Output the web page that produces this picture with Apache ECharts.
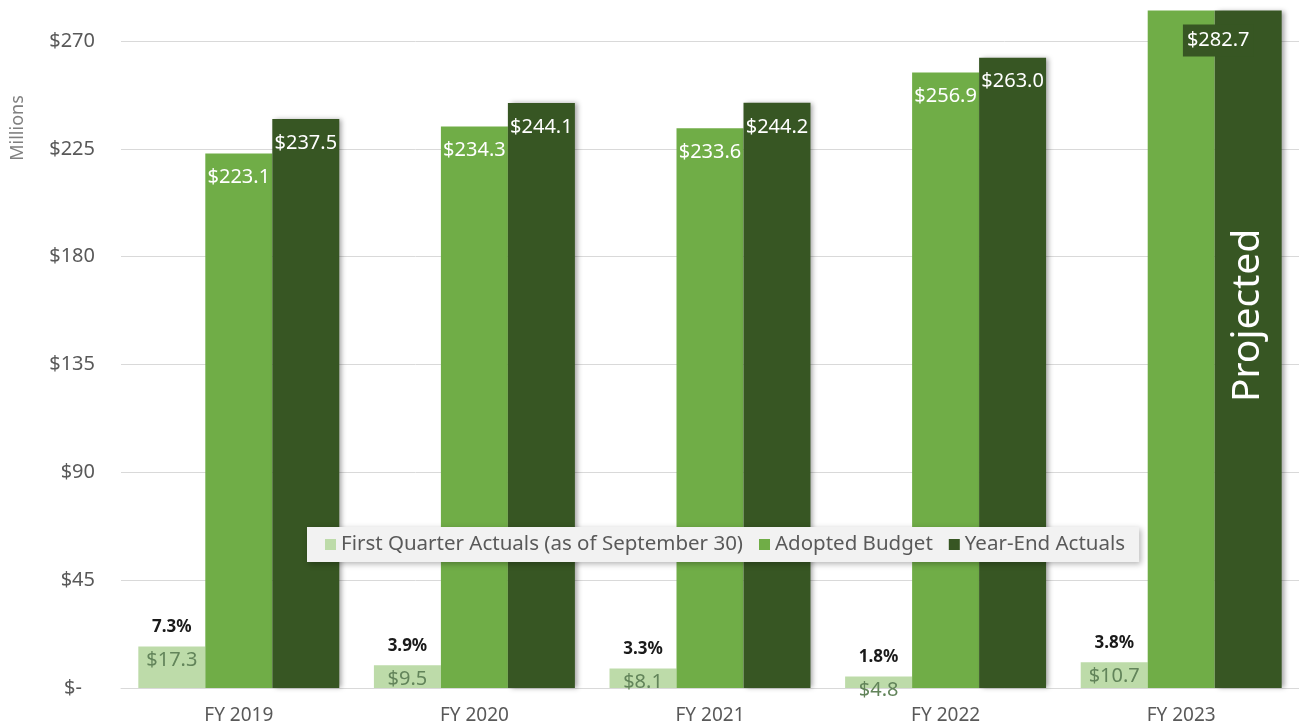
<!DOCTYPE html>
<html>
<head>
<meta charset="utf-8">
<title>Revenue by Fiscal Year</title>
<script src="https://cdn.jsdelivr.net/npm/echarts@6/dist/echarts.min.js"></script>
<style>
  html, body { margin: 0; padding: 0; background: #ffffff; }
  #chart { width: 1299px; height: 727px; }
</style>
</head>
<body>
<div id="chart"></div>
<script>
// Fiscal years on the category axis
const categories = ['FY 2019', 'FY 2020', 'FY 2021', 'FY 2022', 'FY 2023'];

// Values in millions of dollars
const firstQuarter = [17.3, 9.5, 8.1, 4.8, 10.7];
const adoptedBudget = [223.1, 234.3, 233.6, 256.9, 282.7];
const yearEndActuals = [237.5, 244.1, 244.2, 263.0, 282.7];

// First-quarter share of year-end actuals
const firstQuarterShare = ['7.3%', '3.9%', '3.3%', '1.8%', '3.8%'];

// Value axis ticks
const yMin = 0;
const yMax = 270;
const yStep = 45;

const FONT = '"Noto Sans", "Open Sans", sans-serif';
const C_Q1 = '#bddba9';
const C_BUDGET = '#70ad47';
const C_YEAREND = '#375623';

const money = v => '$' + v.toFixed(1);
const last = categories.length - 1;

// Adopted budget: the projected year gets its label set on a dark tag
const budgetData = adoptedBudget.map((v, i) => i === last
  ? { value: v, label: { backgroundColor: C_YEAREND, padding: [6, 4], offset: [37, 0] } }
  : v);

// Year-end actuals: the projected year carries a vertical caption
const yearEndData = yearEndActuals.map((v, i) => i === last
  ? { value: v, label: { formatter: 'Projected', rotate: 90, fontSize: 39,
      position: ['50%', '45%'], align: 'center', verticalAlign: 'middle' } }
  : v);

const chart = echarts.init(document.getElementById('chart'), null, { renderer: 'canvas' });

chart.setOption({
  animation: false,
  textStyle: { fontFamily: FONT },
  grid: { left: 121, right: 0, top: 41, bottom: 39, containLabel: false },
  legend: {
    left: 307, top: 527,
    data: ['First Quarter Actuals (as of September 30)', 'Adopted Budget', 'Year-End Actuals'],
    icon: 'rect', itemWidth: 11, itemHeight: 11, itemGap: 16,
    padding: [7, 14, 7, 18],
    backgroundColor: '#f2f2f2',
    shadowBlur: 6, shadowColor: 'rgba(0,0,0,0.3)', shadowOffsetX: 2, shadowOffsetY: 2,
    textStyle: { fontFamily: FONT, fontSize: 20.5, color: '#595959' }
  },
  graphic: [{
    type: 'text', x: 18, y: 128, rotation: Math.PI / 2,
    style: { text: 'Millions', fill: '#7f7f7f', font: '18px ' + FONT, align: 'center', verticalAlign: 'middle' }
  }],
  xAxis: {
    type: 'category', data: categories,
    axisLine: { lineStyle: { color: '#d9d9d9' } },
    axisTick: { show: false },
    axisLabel: { fontFamily: FONT, fontSize: 19, color: '#595959', margin: 18 }
  },
  yAxis: {
    type: 'value', min: yMin, max: yMax, interval: yStep,
    axisLine: { show: false }, axisTick: { show: false },
    splitLine: { lineStyle: { color: '#d9d9d9', width: 1 } },
    axisLabel: {
      fontFamily: FONT, fontSize: 20, color: '#595959', margin: 26,
      formatter: v => v === 0 ? '{z|$-}' : '$' + v,
      rich: { z: { fontFamily: FONT, fontSize: 20, color: '#595959', padding: [0, 13, 0, 0] } }
    }
  },
  series: [
    {
      name: 'First Quarter Actuals (as of September 30)',
      type: 'bar', data: firstQuarter, clip: false,
      barGap: '0%', barCategoryGap: '14.7%',
      itemStyle: { color: C_Q1 },
      label: {
        show: true, position: 'top', distance: 0, offset: [0, 25],
        formatter: p => '{p|' + firstQuarterShare[p.dataIndex] + '}\n{s| }\n{v|' + money(p.value) + '}',
        rich: {
          p: { fontFamily: FONT, fontSize: 17, fontWeight: 'bold', color: '#1a1a1a', lineHeight: 20 },
          s: { fontSize: 8, lineHeight: 12 },
          v: { fontFamily: FONT, fontSize: 20, color: '#62845a', lineHeight: 22 }
        }
      }
    },
    {
      name: 'Adopted Budget',
      type: 'bar', data: budgetData, clip: false,
      itemStyle: { color: C_BUDGET },
      label: {
        show: true, position: 'insideTop', distance: 14,
        fontFamily: FONT, fontSize: 20, lineHeight: 20, color: '#ffffff',
        formatter: p => money(p.value)
      }
    },
    {
      name: 'Year-End Actuals',
      type: 'bar', data: yearEndData, clip: false,
      itemStyle: { color: C_YEAREND, shadowBlur: 5, shadowColor: 'rgba(0,0,0,0.35)', shadowOffsetX: 3 },
      label: {
        show: true, position: 'insideTop', distance: 14,
        fontFamily: FONT, fontSize: 20, lineHeight: 20, color: '#ffffff',
        formatter: p => money(p.value)
      }
    }
  ]
});
</script>
</body>
</html>
